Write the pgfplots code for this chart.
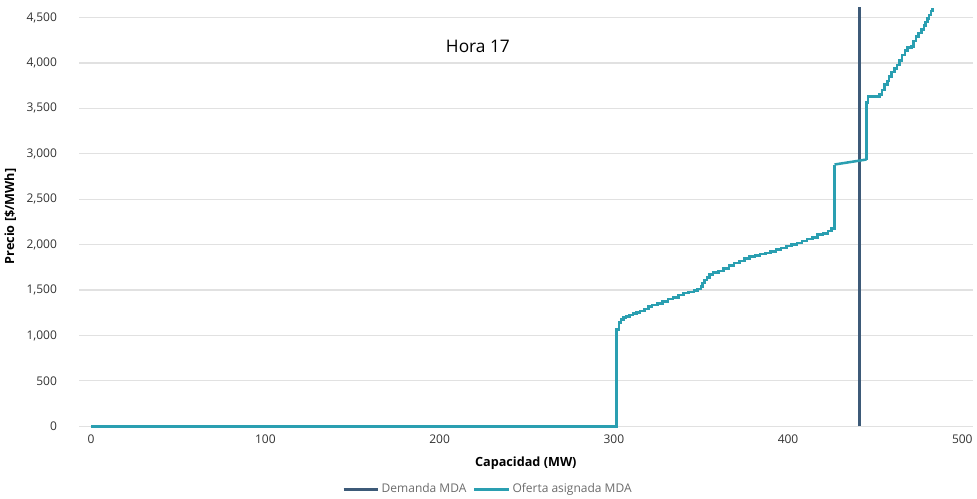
\documentclass[border=0pt]{standalone}
\usepackage{pgfplots}
\pgfplotsset{compat=1.18}
\usepackage{fontspec}
\setmainfont{Open Sans}
\definecolor{dem}{HTML}{3D5A78}
\definecolor{ofe}{HTML}{2A9FB1}
\definecolor{gridc}{HTML}{E1E1E1}
\definecolor{txt}{HTML}{333333}
\begin{document}
\begin{tikzpicture}
\begin{axis}[
  scale only axis,
  width=671pt, height=315pt,
  xmin=-7, xmax=506, ymin=0, ymax=4620,
  axis line style={draw=none},
  tick style={draw=none},
  ymajorgrids, grid style={gridc, line width=0.9pt},
  xtick={0,100,...,500}, ytick={0,500,...,4500},
  /pgf/number format/.cd, 1000 sep={,}, assume math mode=true,
  /pgfplots/.cd,
  tick label style={font=\fontsize{9}{10}\selectfont, text=txt},
  yticklabel style={xshift=-13pt},
  xticklabel style={yshift=-3pt},
  xlabel={\textbf{Capacidad (MW)}},
  ylabel={\textbf{Precio [\$/MWh]}},
  label style={font=\fontsize{9.5}{11}\selectfont},
  xlabel style={yshift=-3pt},
  ylabel style={yshift=1pt},
  legend style={at={(0.458,0)}, anchor=north, yshift=-40pt, draw=none, legend columns=2,
    font=\fontsize{9}{10}\selectfont, text=gray!85!black, inner sep=1pt,
    /tikz/every even column/.append style={column sep=3pt}},
  legend image code/.code={\draw[#1, line width=2pt] (0cm,0cm) -- (0.9cm,0cm);},
  clip=false,
]
\addplot[dem, line width=1.9pt] coordinates {(441,0) (441,4620)};
\addlegendentry{Demanda MDA}
\addplot[ofe, line width=1.9pt, const plot mark left] coordinates {
(0,0) (301.5,0) (301.5,1067) (303,1144) (304,1177) (305.5,1195) (307,1210) (309,1225) (311,1240)
(313,1254) (315,1270) (317.5,1290) (320,1320) (322,1335) (325,1350) (328,1375) (331,1400)
(334,1420) (337,1445) (340,1465) (343,1480) (346,1495) (348,1510) (350,1540) (351,1575)
(352,1610) (353.5,1640) (355,1670) (357,1694) (360,1710) (363,1740) (366,1770) (369,1800)
(372,1820) (375,1845) (378,1870) (381,1880) (384,1895) (387,1910) (390,1925) (393,1945)
(396,1965) (399,1985) (402,2000) (405,2020) (408,2040) (411,2060) (414,2080) (417,2110)
(420,2125) (423,2150) (425,2180) (426.7,2882)};
\addlegendentry{Oferta asignada MDA}
\addplot[ofe, line width=1.9pt, forget plot] coordinates {(426.7,2882) (445,2937)};
\addplot[ofe, line width=1.9pt, const plot mark left, forget plot] coordinates {
(445,2937) (445,3564) (446,3630) (452.5,3652) (454,3700) (455.3,3762) (457,3800) (458,3850)
(459.5,3900) (461,3940) (462.5,3980) (464,4030) (465.5,4090) (467,4140) (468.5,4170)
(471,4180) (472,4240) (473.5,4290) (475,4330) (476.5,4370) (478,4410) (479,4450) (480,4490)
(481,4530) (482,4570) (483,4610)};
\node[font=\fontsize{13}{15}\selectfont, text=black] at (axis cs:222,4180) {Hora 17};
\end{axis}
\path ([yshift=5pt]current axis.north);
\end{tikzpicture}
\end{document}
